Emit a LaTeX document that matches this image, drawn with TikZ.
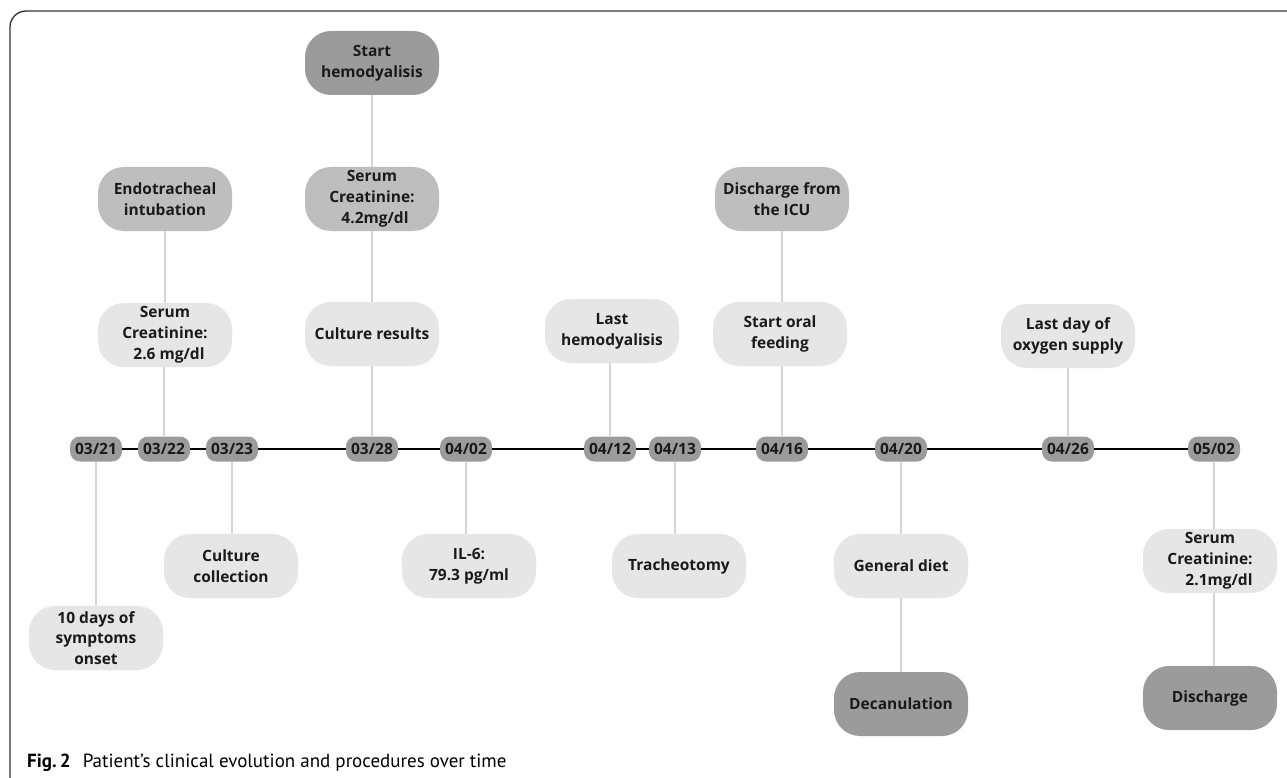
\documentclass[tikz,border=0pt]{standalone}
\usepackage{fontspec}
\setmainfont{Open Sans}
\newfontfamily\capfont{PT Sans}
\definecolor{cd}{HTML}{9B9B9B}
\definecolor{cm}{HTML}{BEBEBE}
\definecolor{cl}{HTML}{E6E6E6}
\definecolor{cc}{HTML}{D6D6D6}
\definecolor{txt}{HTML}{1A1A1A}
\definecolor{fr}{HTML}{333333}
\tikzset{
  ev/.style={rounded corners=26pt, minimum width=134pt, minimum height=64pt, align=center,
    font=\fontsize{15.5}{20.8}\selectfont\bfseries, text=txt, inner sep=1pt},
  lt/.style={ev, fill=cl},
  md/.style={ev, fill=cm},
  dk/.style={ev, fill=cd},
  dt/.style={fill=cd, rounded corners=10pt, minimum width=52pt, minimum height=25pt, inner sep=0pt,
    text=txt, font=\fontsize{15.5}{18}\selectfont\bfseries},
  con/.style={draw=cc, line width=1.5pt},
  tl/.style={draw=black, line width=2.2pt},
  frame/.style={draw=fr, line width=1.3pt, rounded corners=16pt}
}
\begin{document}
\begin{tikzpicture}[x=1pt,y=-1pt]
\useasboundingbox (0,0) rectangle (1287,778);
\fill[white] (0,0) rectangle (1287,778);
\coordinate (fa) at (10,790);
\coordinate (fb) at (10,11);
\coordinate (fc) at (1295,11);
\draw[frame] (fa) -- (fb) -- (fc);

% dates
\node[dt] (d0321) at (96,449) {03/21};
\node[dt] (d0322) at (164,449) {03/22};
\node[dt] (d0323) at (232,449) {03/23};
\node[dt] (d0328) at (372,449) {03/28};
\node[dt] (d0402) at (466,449) {04/02};
\node[dt] (d0412) at (610,449) {04/12};
\node[dt] (d0413) at (675,449) {04/13};
\node[dt] (d0416) at (782,449) {04/16};
\node[dt] (d0420) at (901,449) {04/20};
\node[dt] (d0426) at (1068,449) {04/26};
\node[dt] (d0502) at (1214,449) {05/02};

% timeline
\draw[tl] (d0321.east) -- (d0322.west);
\draw[tl] (d0322.east) -- (d0323.west);
\draw[tl] (d0323.east) -- (d0328.west);
\draw[tl] (d0328.east) -- (d0402.west);
\draw[tl] (d0402.east) -- (d0412.west);
\draw[tl] (d0412.east) -- (d0413.west);
\draw[tl] (d0413.east) -- (d0416.west);
\draw[tl] (d0416.east) -- (d0420.west);
\draw[tl] (d0420.east) -- (d0426.west);
\draw[tl] (d0426.east) -- (d0502.west);

% events above
\node[md] (endo) at (165,199) {Endotracheal\\intubation};
\node[lt] (sc26) at (165,335) {Serum\\Creatinine:\\\hspace*{8pt}2.6 mg/dl};
\node[dk] (shd) at (372,63) {Start\\hemodyalisis};
\node[md] (sc42) at (372,199) {Serum\\Creatinine:\\\hspace*{6pt}4.2mg/dl};
\node[lt] (cres) at (372,334) {Culture results};
\node[lt] (lhd) at (612,331) {Last\\hemodyalisis};
\node[lt] (sof) at (780,334) {Start oral\\feeding};
\node[md] (dicu) at (782,199) {Discharge from\\the ICU};
\node[lt] (ox) at (1068,336) {Last day of\\oxygen supply};

% events below
\node[lt] (onset) at (96,638) {10 days of\\symptoms\\onset};
\node[lt] (ccol) at (231,566) {Culture\\collection};
\node[lt] (il6) at (469,566) {IL-6:\\79.3 pg/ml};
\node[lt] (trach) at (679,566) {Tracheotomy};
\node[lt] (gd) at (901,566) {General diet};
\node[dk] (dec) at (901,704) {Decanulation};
\node[lt] (sc21) at (1210,561) {Serum\\Creatinine:\\\hspace*{18pt}2.1mg/dl};
\node[dk] (dis) at (1210,698) {Discharge};

% connectors
\draw[con] (d0322.north) -- (d0322.north |- sc26.south);
\draw[con] (sc26.north) -- (sc26.north |- endo.south);
\draw[con] (d0328.north) -- (d0328.north |- cres.south);
\draw[con] (cres.north) -- (cres.north |- sc42.south);
\draw[con] (sc42.north) -- (sc42.north |- shd.south);
\draw[con] (d0412.north) -- (d0412.north |- lhd.south);
\draw[con] (d0416.north) -- (d0416.north |- sof.south);
\draw[con] (d0416.north |- sof.north) -- (d0416.north |- dicu.south);
\draw[con] (d0426.north) -- (d0426.north |- ox.south);
\draw[con] (d0321.south) -- (d0321.south |- onset.north);
\draw[con] (d0323.south) -- (d0323.south |- ccol.north);
\draw[con] (d0402.south) -- (d0402.south |- il6.north);
\draw[con] (d0413.south) -- (d0413.south |- trach.north);
\draw[con] (d0420.south) -- (d0420.south |- gd.north);
\draw[con] (gd.south) -- (gd.south |- dec.north);
\draw[con] (d0502.south) -- (d0502.south |- sc21.north);
\draw[con] (d0502.south |- sc21.south) -- (d0502.south |- dis.north);

% caption
\node[anchor=base west, inner sep=0pt, font=\capfont\fontsize{19}{22}\selectfont] (cap) at (27,767)
  {\textbf{Fig.\,2}\hspace{12pt}Patient’s clinical evolution and procedures over time};
\end{tikzpicture}
\end{document}
